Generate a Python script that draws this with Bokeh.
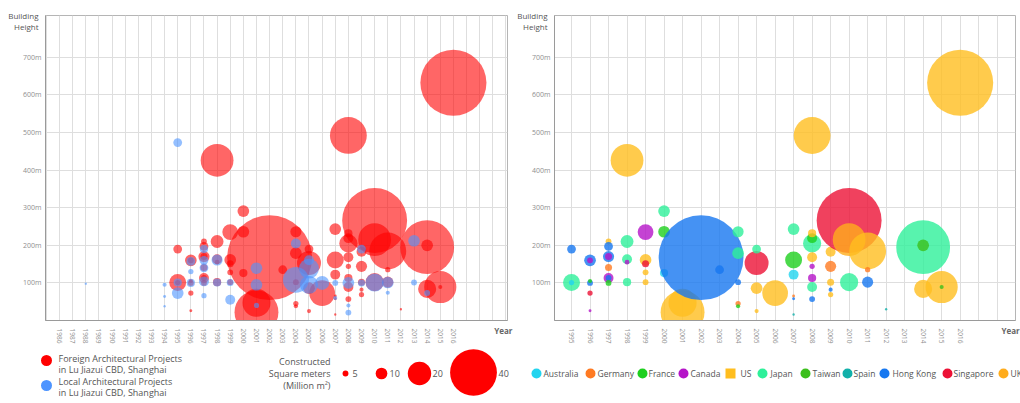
import numpy as np
from bokeh.plotting import figure
from bokeh.layouts import column, row
from bokeh.models import Range1d, FixedTicker, LinearAxis, ColumnDataSource
from bokeh.core.properties import value
from bokeh.embed import file_html
from bokeh.resources import INLINE

FONT = "Open Sans"
PX_PER_UNIT = 1.17  # bubble diameter (px) per million m2

# ---------------- data ----------------
f_year = [1995, 1995, 1995, 1996, 1996, 1996, 1996, 1996, 1996,
          1997, 1997, 1997, 1997, 1997, 1997, 1997, 1997,
          1998, 1998, 1998, 1998, 1998,
          1999, 1999, 1999, 1999, 1999,
          2000, 2000, 2000,
          2001, 2001,
          2002, 2003,
          2004, 2004, 2004, 2004, 2004,
          2005, 2005, 2005, 2005,
          2006,
          2007, 2007, 2007, 2007, 2007, 2007,
          2008, 2008, 2008, 2008, 2008, 2008, 2008, 2008, 2008,
          2009, 2009, 2009, 2009, 2009,
          2010, 2010, 2010,
          2011, 2011, 2011,
          2012,
          2014, 2014, 2014,
          2015, 2015,
          2016]
f_height = [101, 101, 190, 160, 160, 100, 105, 73, 26,
            210, 197, 170, 170, 141, 113, 113, 100,
            426, 210, 163, 155, 102,
            235, 161, 151, 128, 102,
            291, 236, 126,
            22, 47,
            167, 135,
            236, 179, 102, 45, 38,
            153, 190, 86, 25,
            73,
            243, 161, 122, 65, 58, 16,
            492, 205, 219, 232, 168, 144, 113, 89, 57,
            183, 144, 102, 82, 69,
            266, 215, 102,
            185, 135, 102,
            30,
            195, 200, 84,
            89, 89,
            632]
f_area = [14.5, 4.5, 7.5, 10, 5, 5, 3.5, 4.5, 2.5,
          5, 7.5, 9.5, 6, 6, 8.5, 5, 5,
          28, 11, 8.5, 4, 7,
          13.5, 10, 6, 5, 5,
          10, 10, 7,
          37.5, 24,
          72.5, 7.5,
          9.5, 10, 5, 4.5, 3.5,
          20.5, 7.5, 10, 3.5,
          22,
          10, 14.5, 8.5, 2.5, 2.5, 2,
          31.5, 15.5, 8.5, 7, 8.5, 4.5, 7, 8.5, 5,
          8.5, 9.5, 6, 3.5, 4.5,
          55.5, 28, 15.5,
          31.5, 4.5, 9.5,
          2,
          46, 10, 15.5,
          27.5, 3.5,
          56.5]
f_country = ["Japan", "Australia", "Hong Kong", "Hong Kong", "Canada", "Hong Kong", "France", "Singapore", "Canada",
             "US", "Hong Kong", "Hong Kong", "Canada", "Germany", "Canada", "Hong Kong", "France",
             "US", "Japan", "Japan", "Canada", "Japan",
             "Canada", "US", "Singapore", "US", "US",
             "Japan", "France", "Australia",
             "US", "US",
             "Hong Kong", "Hong Kong",
             "Japan", "Japan", "Hong Kong", "Germany", "France",
             "Singapore", "Japan", "US", "US",
             "US",
             "Japan", "France", "Australia", "Germany", "Hong Kong", "Spain",
             "US", "Japan", "France", "US", "US", "Canada", "Canada", "Japan", "Hong Kong",
             "US", "Germany", "US", "Hong Kong", "US",
             "Singapore", "UK", "Japan",
             "US", "Germany", "Hong Kong",
             "Spain",
             "Japan", "Taiwan", "US",
             "US", "Taiwan",
             "US"]

l_year = [1988, 1994, 1994, 1994, 1995, 1995, 1995, 1996, 1996, 1996,
          1997, 1997, 1997, 1997, 1997, 1998, 1998, 1999, 1999,
          2001, 2001, 2001, 2004, 2004, 2005, 2005, 2005, 2006,
          2007, 2007, 2008, 2008, 2008, 2009, 2009, 2010, 2011, 2011,
          2013, 2013, 2014]
l_height = [98, 95, 64, 38, 473, 101, 73, 100, 130, 157,
            190, 160, 140, 104, 66, 161, 101, 101, 55,
            139, 95, 40, 205, 108, 138, 95, 160, 100,
            100, 60, 100, 40, 21, 190, 100, 101, 101, 74,
            212, 101, 73]
l_area = [2, 3.5, 2.5, 2, 7.5, 7, 10, 7, 4.5, 7.5,
          7, 7.5, 7.5, 8.5, 4.5, 9.5, 7, 6, 8.5,
          10, 10, 4.5, 8.5, 22, 17, 15.5, 8.5, 12,
          5, 3.5, 10, 3.5, 5, 7.5, 6, 15.5, 10, 3.5,
          10, 5, 5]

countries = ["Australia", "Germany", "France", "Canada", "US", "Japan",
             "Taiwan", "Spain", "Hong Kong", "Singapore", "UK"]
country_colors = ["#22d4ef", "#ff7a22", "#1ecf1e", "#b514c8", "#ffbe1f", "#2ef09a",
                  "#3cbf1c", "#12b0aa", "#1677f0", "#ec1236", "#ffac1c"]
size_legend_values = [5, 10, 20, 40]

left_years = list(range(1986, 2017))
right_years = list(range(1995, 2017))
height_ticks = [100, 200, 300, 400, 500, 600, 700]
y_title = {810.5: "Building", 781.0: "Height"}

cmap = dict(zip(countries, country_colors))

# ---------------- helpers ----------------
def style_axis(ax, size, color):
    ax.major_tick_line_color = None
    ax.minor_tick_line_color = None
    ax.major_tick_out = 0
    ax.major_tick_in = 0
    ax.minor_tick_out = 0
    ax.minor_tick_in = 0
    ax.major_label_text_font = FONT
    ax.major_label_text_font_size = size
    ax.major_label_text_color = color


def base_fig(width, xr, bl, br, tick_years, grid_years, year_x):
    p = figure(width=width, height=346, x_range=Range1d(*xr), y_range=Range1d(0, 811),
               output_backend="svg", toolbar_location=None,
               min_border_left=bl, min_border_right=br,
               min_border_top=15, min_border_bottom=26)
    p.outline_line_color = "#b5b5b5"
    p.background_fill_color = "white"
    p.border_fill_color = "white"

    # inner x axis: "Year" caption at the right end
    xa = p.below[0]
    style_axis(xa, "8px", "#666666")
    xa.ticker = FixedTicker(ticks=[year_x])
    xa.major_label_overrides = {year_x: "Year"}
    xa.major_label_orientation = "horizontal"
    xa.major_label_standoff = 4
    xa.major_label_text_font_style = "bold"
    xa.axis_line_color = "#9a9a9a"

    # outer x axis: vertical year labels
    ya_years = LinearAxis(ticker=FixedTicker(ticks=tick_years))
    style_axis(ya_years, "6.5px", "#8f8f8f")
    ya_years.major_label_orientation = "vertical"
    ya_years.major_label_standoff = -10
    ya_years.axis_line_color = None
    p.add_layout(ya_years, "below")

    # inner y axis: height labels
    ya = p.left[0]
    style_axis(ya, "7px", "#8f8f8f")
    ya.ticker = FixedTicker(ticks=height_ticks)
    ya.major_label_overrides = {v: f"{v}m" for v in height_ticks}
    ya.major_label_standoff = 4
    ya.axis_line_color = "#9a9a9a"

    # outer y axis: "Building / Height" caption
    yt = LinearAxis(ticker=FixedTicker(ticks=list(y_title.keys())))
    style_axis(yt, "8px", "#555555")
    yt.major_label_overrides = y_title
    yt.major_label_standoff = -18
    yt.axis_line_color = None
    p.add_layout(yt, "left")

    p.xgrid.ticker = FixedTicker(ticks=grid_years)
    p.ygrid.ticker = FixedTicker(ticks=height_ticks)
    p.xgrid.grid_line_color = "#dedede"
    p.ygrid.grid_line_color = "#dedede"
    return p

# ---------------- left main ----------------
left = base_fig(514, (1984.93, 2020.12), 45, 7, left_years, list(range(1985, 2021)), 2019.8)
f_sizes = [a * PX_PER_UNIT for a in f_area]
l_sizes = [a * PX_PER_UNIT for a in l_area]
left.scatter(x=f_year, y=f_height, size=f_sizes, fill_color="#ff0000", fill_alpha=0.6, line_color=None)
left.scatter(x=l_year, y=l_height, size=l_sizes, fill_color="#4d94ff", fill_alpha=0.6, line_color=None)

# ---------------- right main ----------------
right = base_fig(506, (1994.08, 2018.99), 39, 5, right_years, list(range(1995, 2019)), 2018.72)
src = ColumnDataSource(dict(x=f_year, y=f_height, s=f_sizes, c=[cmap[c] for c in f_country]))
right.scatter(x="x", y="y", size="s", fill_color="c", fill_alpha=0.8, line_color=None, source=src)

# ---------------- legends ----------------
def legend_fig(width):
    p = figure(width=width, height=56, x_range=Range1d(0, width), y_range=Range1d(0, 56),
               output_backend="svg", toolbar_location=None, min_border=0)
    p.axis.visible = False
    p.grid.visible = False
    p.outline_line_color = None
    return p

ll = legend_fig(514)
ll.scatter(x=[46, 46], y=[42, 17], size=11, fill_color=["#ff0000", "#4d94ff"], line_color=None)
ll.text(x=[58, 58, 58, 58], y=[44, 33, 21, 10],
        text=["Foreign Architectural Projects", "in Lu Jiazui CBD, Shanghai",
              "Local Architectural Projects", "in Lu Jiazui CBD, Shanghai"],
        text_font=value(FONT), text_font_size="9px", text_color="#555555",
        text_baseline="middle", text_align="left")
ll.text(x=[330, 330, 330], y=[41, 29, 17],
        text=["Constructed", "Square meters", "(Million m\u00b2)"],
        text_font=value(FONT), text_font_size="9px", text_color="#555555",
        text_baseline="middle", text_align="right")
ll.scatter(x=[345, 381, 419, 473], y=[29, 29, 29, 30], size=[v * PX_PER_UNIT for v in size_legend_values],
           fill_color="#ff0000", line_color=None)
ll.text(x=[352, 389, 432, 498], y=[29, 29, 29, 29], text=[str(v) for v in size_legend_values],
        text_font=value(FONT), text_font_size="9px", text_color="#555555",
        text_baseline="middle", text_align="left")

rl = legend_fig(506)
dot_x = [22, 76, 128, 169, 216, 248, 291, 333, 370, 433, 489]
txt_x = [29, 83, 134, 176, 226, 256, 298, 339, 378, 439, 496]
markers = ["square" if c == "US" else "circle" for c in countries]
rl.scatter(x=dot_x, y=[29] * len(countries), size=10, marker=markers, fill_color=country_colors,
           line_color=None)
rl.text(x=txt_x, y=[29] * len(countries), text=countries, text_font=value(FONT),
        text_font_size="8.5px", text_color="#555555", text_baseline="middle", text_align="left")

layout = column(row(left, right), row(ll, rl))
open("out.html", "w").write(file_html(layout, INLINE))
